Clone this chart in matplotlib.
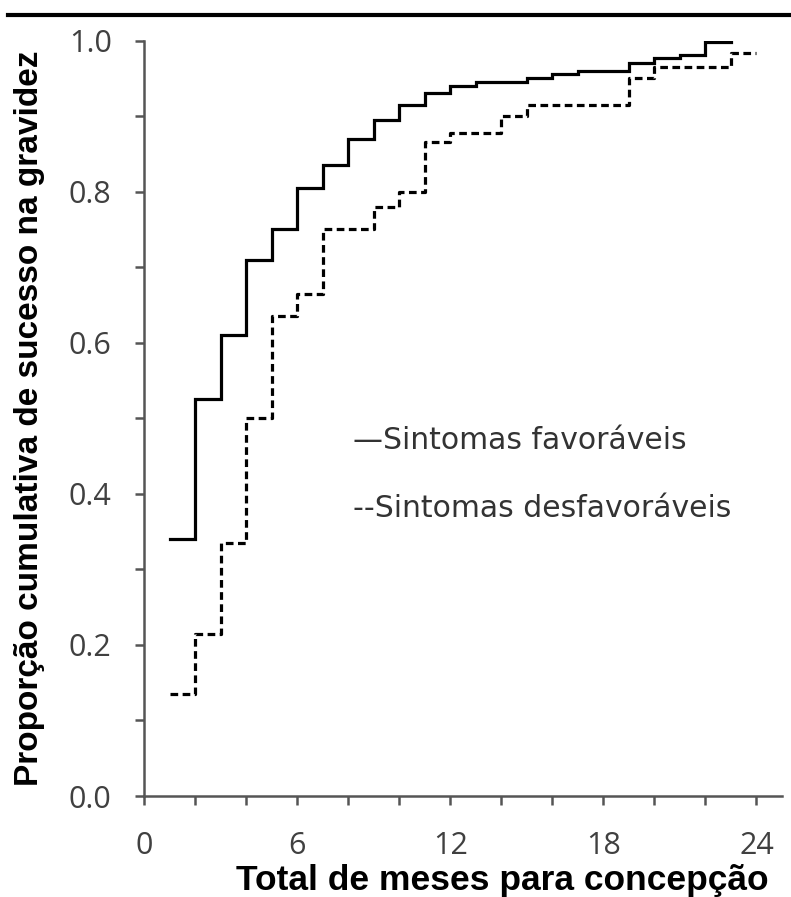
import matplotlib
matplotlib.use("Agg")
import matplotlib.pyplot as plt
from matplotlib.lines import Line2D
from matplotlib.ticker import MultipleLocator, FixedLocator

# Data (month at which each level starts; last entry = end of curve)
fav_months = [1, 2, 3, 4, 5, 6, 7, 8, 9, 10, 11, 12, 13, 15, 16, 17, 19, 20, 21, 22, 23]
fav_values = [0.34, 0.525, 0.61, 0.71, 0.75, 0.805, 0.835, 0.87, 0.895, 0.915, 0.93,
              0.94, 0.945, 0.95, 0.955, 0.96, 0.97, 0.977, 0.981, 0.998, 0.998]

desf_months = [1, 2, 3, 4, 5, 6, 7, 9, 10, 11, 12, 14, 15, 19, 20, 23, 24]
desf_values = [0.135, 0.215, 0.335, 0.50, 0.635, 0.665, 0.75, 0.78, 0.80, 0.865,
               0.878, 0.90, 0.915, 0.95, 0.965, 0.983, 0.983]

x_ticks = [0, 6, 12, 18, 24]
y_ticks = [0.0, 0.2, 0.4, 0.6, 0.8, 1.0]
y_ticklabels = ["0.0", "0.2", "0.4", "0.6", "0.8", "1.0"]

legend_labels = ["\u2014Sintomas favoráveis", "--Sintomas desfavoráveis"]
xlabel = "Total de meses para concepção"
ylabel = "Proporção cumulativa de sucesso na gravidez"

fig = plt.figure(figsize=(7.91, 8.97), dpi=100)
ax = fig.add_axes([144.3 / 791, 1 - 796 / 897, (782 - 144.3) / 791, (796 - 40.5) / 897])

ax.step(fav_months, fav_values, where="post", color="black", lw=2.3, solid_joinstyle="miter")
ax.step(desf_months, desf_values, where="post", color="black", lw=2.3,
        linestyle=(0, (2.4, 1.4)))

ax.set_xlim(0, 25)
ax.set_ylim(0, 1.0)

for s in ["top", "right"]:
    ax.spines[s].set_visible(False)
for s in ["left", "bottom"]:
    ax.spines[s].set_color("#555555")
    ax.spines[s].set_linewidth(1.8)

ax.xaxis.set_major_locator(FixedLocator(x_ticks))
ax.xaxis.set_minor_locator(MultipleLocator(2))
ax.yaxis.set_major_locator(FixedLocator(y_ticks))
ax.yaxis.set_minor_locator(MultipleLocator(0.1))
ax.set_yticklabels(y_ticklabels)

ax.tick_params(axis="both", which="both", direction="out", length=6.5, width=1.8,
               color="#555555", labelcolor="#404040")
ax.tick_params(axis="x", which="major", pad=19)
ax.tick_params(axis="y", which="major", pad=17)
for lab in ax.get_xticklabels() + ax.get_yticklabels():
    lab.set_fontfamily("Open Sans")
    lab.set_fontsize(22)

fig.text(353 / 791, 1 - 440 / 897, legend_labels[0], fontsize=21.5,
         family="DejaVu Sans", color="#333333", va="center", ha="left")
fig.text(353 / 791, 1 - 508 / 897, legend_labels[1], fontsize=21.5,
         family="DejaVu Sans", color="#333333", va="center", ha="left")

fig.text(502 / 791, 1 - 890 / 897, xlabel, fontsize=25.5, fontweight="bold",
         family="Liberation Sans", color="black", ha="center", va="baseline")
fig.text(30 / 791, 1 - 418 / 897, ylabel, fontsize=24, fontweight="bold",
         family="Liberation Sans", color="black", ha="center", va="center",
         rotation=90)

fig.add_artist(Line2D([8 / 791, 1.0], [1 - 15 / 897, 1 - 15 / 897], color="black", lw=3))

fig.savefig("out.png", dpi=100)
